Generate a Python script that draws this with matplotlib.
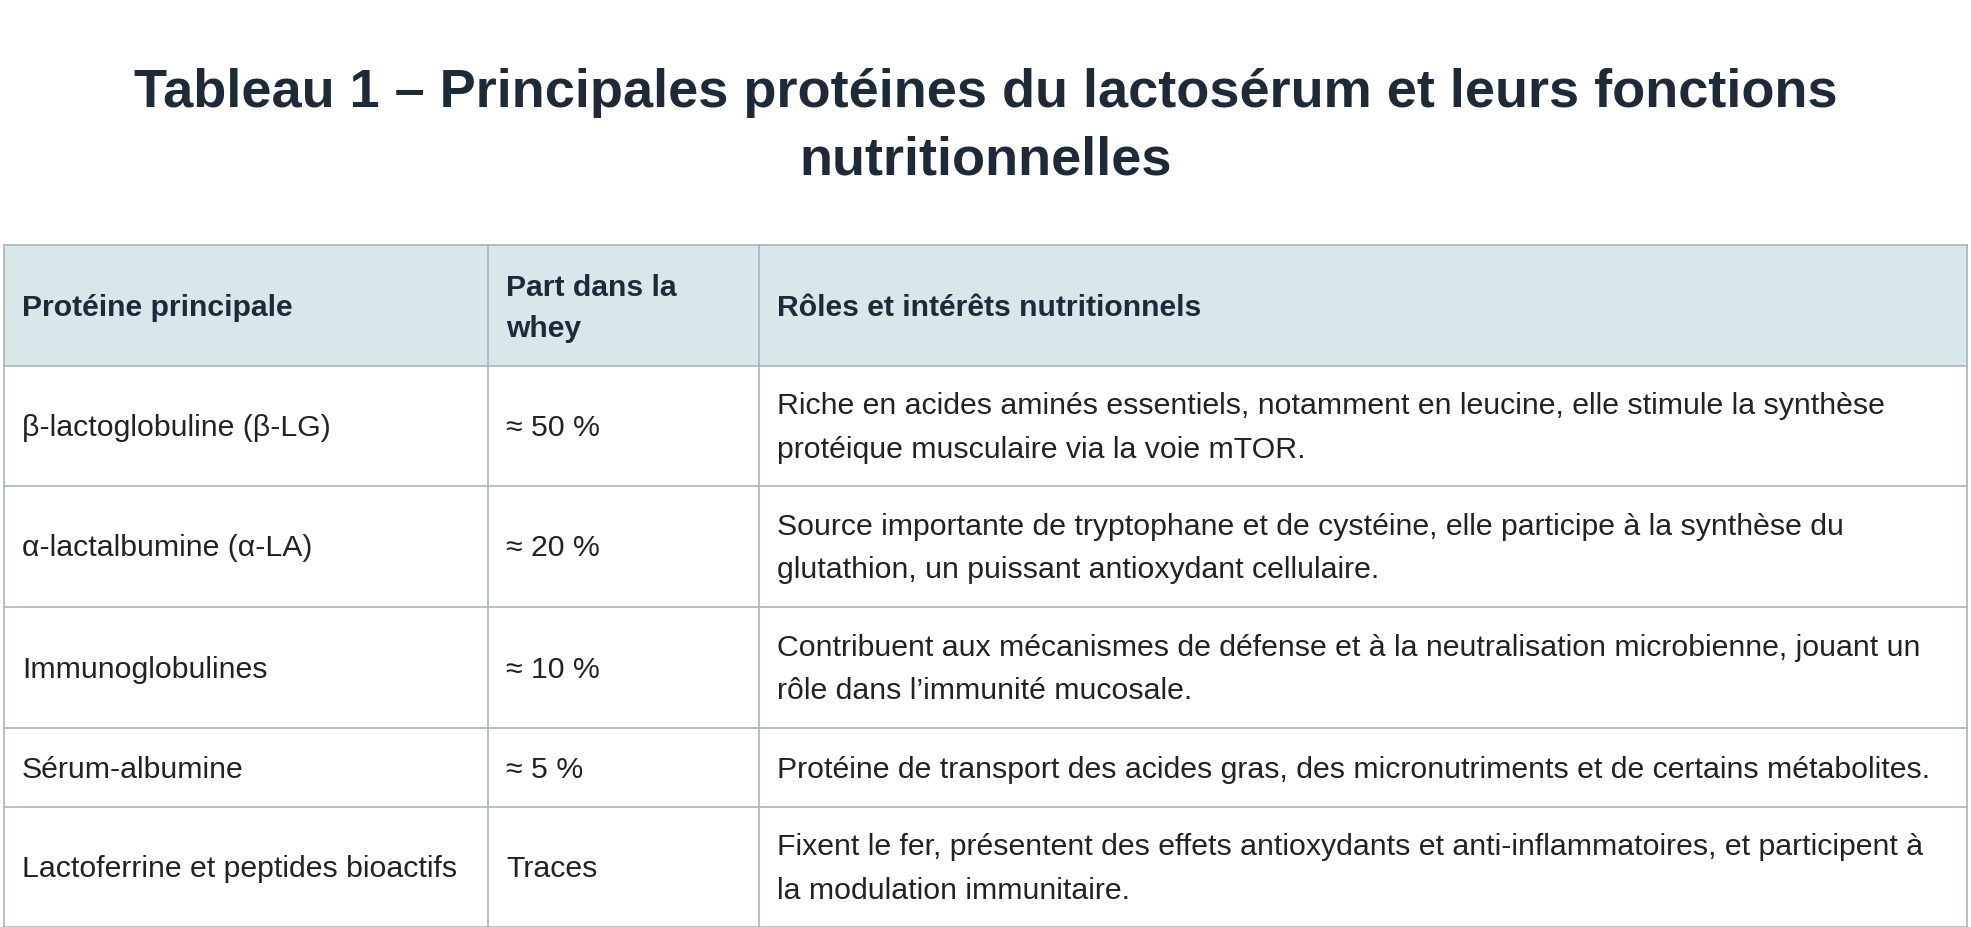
import matplotlib
matplotlib.use('Agg')
import matplotlib.pyplot as plt
from matplotlib.patches import Rectangle

plt.rcParams['font.family'] = ['Liberation Sans', 'DejaVu Sans']

title = "Tableau 1 – Principales protéines du lactosérum et leurs fonctions\nnutritionnelles"
headers = ["Protéine principale", "Part dans la\nwhey", "Rôles et intérêts nutritionnels"]
proteins = ["β-lactoglobuline (β-LG)", "α-lactalbumine (α-LA)", "Immunoglobulines",
            "Sérum-albumine", "Lactoferrine et peptides bioactifs"]
shares = ["≈ 50 %", "≈ 20 %", "≈ 10 %", "≈ 5 %", "Traces"]
roles = [
    "Riche en acides aminés essentiels, notamment en leucine, elle stimule la synthèse\nprotéique musculaire via la voie mTOR.",
    "Source importante de tryptophane et de cystéine, elle participe à la synthèse du\nglutathion, un puissant antioxydant cellulaire.",
    "Contribuent aux mécanismes de défense et à la neutralisation microbienne, jouant un\nrôle dans l’immunité mucosale.",
    "Protéine de transport des acides gras, des micronutriments et de certains métabolites.",
    "Fixent le fer, présentent des effets antioxydants et anti-inflammatoires, et participent à\nla modulation immunitaire.",
]

W, H = 1971, 927
fig = plt.figure(figsize=(W / 100, H / 100), dpi=100)
ax = fig.add_axes([0, 0, 1, 1])
ax.set_xlim(0, W)
ax.set_ylim(H, 0)
ax.axis('off')

# layout (pixels)
col_x = [4, 488, 759, 1967]
row_y = [245, 366, 486, 607, 728, 807, 927]
line_col = '#aab3bd'
head_bg = '#d7e7ea'
dark = '#1e2a38'
body = '#222222'
pad = 18

ax.text(W / 2, 127, title, ha='center', va='center', fontsize=39, fontweight='bold',
        color=dark, linespacing=1.45)

ax.add_patch(Rectangle((col_x[0], row_y[0]), col_x[-1] - col_x[0], row_y[1] - row_y[0],
                       facecolor=head_bg, edgecolor='none', zorder=0))

for i, h in enumerate(headers):
    ax.text(col_x[i] + pad, (row_y[0] + row_y[1]) / 2 + 3, h, ha='left', va='center',
            fontsize=21.7, fontweight='bold', color=dark, linespacing=1.62)

rows = list(zip(proteins, shares, roles))
for r, cells in enumerate(rows):
    yc = (row_y[r + 1] + row_y[r + 2]) / 2 + 2
    for i, c in enumerate(cells):
        ax.text(col_x[i] + pad, yc, c, ha='left', va='center', fontsize=21.8,
                color=body, linespacing=1.7)

for y in row_y:
    ax.plot([col_x[0], col_x[-1]], [y, y], color=line_col, lw=1.2)
for x in col_x:
    ax.plot([x, x], [row_y[0], row_y[-1]], color=line_col, lw=1.2)

fig.savefig('out.png', dpi=100)
